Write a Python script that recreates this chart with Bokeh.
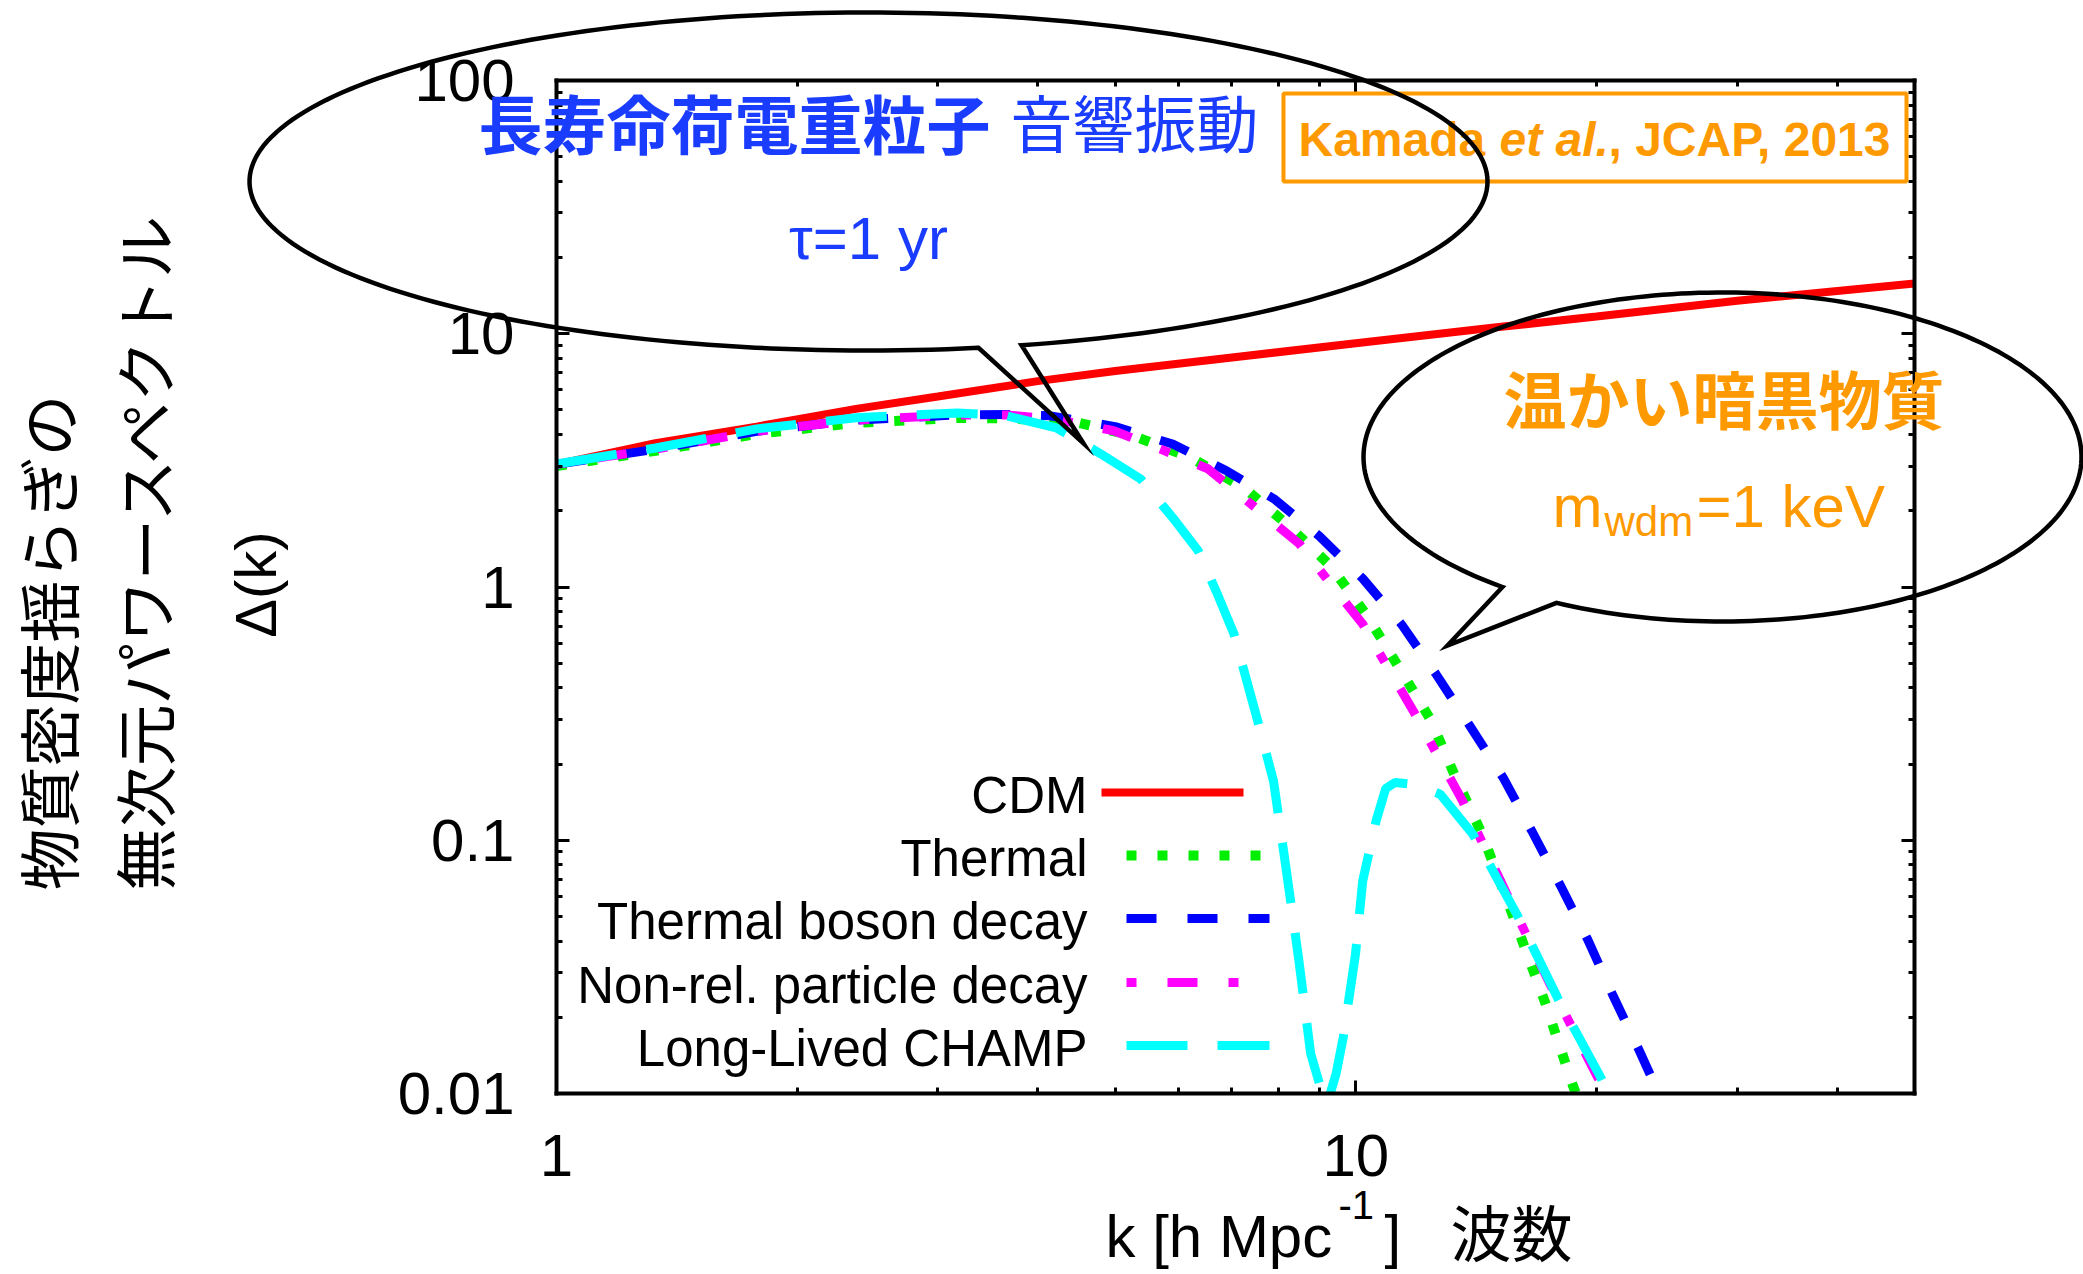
import math
from bokeh.plotting import figure
from bokeh.models import (Range1d, FixedTicker, CustomJSTickFormatter, LogAxis, Label,
                          PolyAnnotation, BoxAnnotation, Arrow)
from bokeh.embed import file_html
from bokeh.resources import INLINE

NaN = float("nan")

# ---------------- data ----------------
cdm_k = [1.0, 1.33, 1.78, 2.37, 3.0, 4.0, 5.0, 7.0, 10.0, 15.0, 20.0, 30.0, 50.0]
cdm_d = [3.05, 3.7, 4.3, 5.05, 5.65, 6.5, 7.13, 8.06, 9.17, 10.6, 11.7, 13.5, 15.8]

thermal_k = [1.0, 1.33, 1.78, 2.37, 3.17, 3.66, 4.44, 5.27, 6.22, 7.25, 8.2, 9.3, 10.3,
             11.3, 12.4, 13.3, 14.4, 15.7, 17.2, 18.7, 18.85]
thermal_d = [3.0, 3.45, 4.02, 4.45, 4.65, 4.63, 4.5, 3.95, 3.24, 2.46, 1.77, 1.21, 0.78,
             0.487, 0.30, 0.18, 0.105, 0.051, 0.0235, 0.0107, 0.01]

boson_k = [1.0, 1.33, 1.78, 2.37, 3.17, 3.66, 4.15, 5.0, 5.9, 6.9, 7.9, 9.0, 10.2, 11.4,
           12.6, 13.9, 15.3, 16.6, 18.0, 19.5, 21.0, 22.6, 23.9, 24.0]
boson_d = [3.05, 3.5, 4.12, 4.56, 4.78, 4.8, 4.74, 4.3, 3.67, 2.87, 2.23, 1.59, 1.08, 0.714,
           0.453, 0.282, 0.176, 0.109, 0.067, 0.0406, 0.0242, 0.0149, 0.0101, 0.01]

nonrel_k = [1.0, 1.33, 1.78, 2.37, 3.17, 3.66, 4.2, 4.98, 5.7, 6.53, 7.5, 8.5, 9.3, 10.2,
            11.0, 11.8, 12.7, 13.6, 15.5, 17.5, 19.0, 20.4, 20.55]
nonrel_d = [3.05, 3.5, 4.12, 4.56, 4.78, 4.78, 4.6, 4.14, 3.5, 2.93, 2.05, 1.48, 1.03, 0.714,
            0.473, 0.324, 0.212, 0.143, 0.060, 0.027, 0.0162, 0.0105, 0.01]

champ_k = [1.0, 1.33, 1.78, 2.37, 3.17, 3.66, 4.22, 4.8, 5.38, 5.9, 6.35, 6.7, 7.04, 7.54,
           7.89, 8.18, 8.49, 8.78, 9.04, 9.08, NaN, 9.29, 9.45, 9.64, 9.99, 10.2, 10.6,
           10.9, 11.2, 11.6, 12.1, 12.75, 14.0, 15.9, 17.9, 20.3, 20.7]
champ_d = [3.06, 3.54, 4.21, 4.66, 4.87, 4.74, 4.25, 3.35, 2.67, 1.88, 1.39, 0.95, 0.652,
           0.295, 0.171, 0.0775, 0.0333, 0.0144, 0.0105, 0.01, NaN, 0.01, 0.012, 0.0165,
           0.0354, 0.069, 0.119, 0.160, 0.169, 0.167, 0.162, 0.152, 0.106, 0.051, 0.0237,
           0.0114, 0.01]

series_names = ["CDM", "Thermal", "Thermal boson decay", "Non-rel. particle decay",
                "Long-Lived CHAMP"]

x_tick_values = [1, 10]
y_tick_values = [0.01, 0.1, 1, 10, 100]

# ---------------- layout ----------------
W, H = 2083, 1274
L, R, T, B = 556, 1914, 80, 1093          # plot box in page pixels
XMIN, XMAX = 1.0, 50.0
YMIN, YMAX = 0.01, 100.0

def dx(px):
    return 10 ** (math.log10(XMIN) + (px - L) / (R - L) * (math.log10(XMAX) - math.log10(XMIN)))

def dy(py):
    return 10 ** (math.log10(YMAX) - (py - T) / (B - T) * (math.log10(YMAX) - math.log10(YMIN)))

SANS = "Liberation Sans"
CJK = "Noto Sans CJK JP"
BLUE_T = "#1a3cff"
ORANGE = "#ff9900"

# the frame fills the whole page; the plot box is drawn by fixed-location axes
p = figure(width=W, height=H, x_axis_type="log", y_axis_type="log",
           x_range=Range1d(dx(0), dx(W)), y_range=Range1d(dy(H), dy(0)),
           x_axis_location=None, y_axis_location=None,
           output_backend="svg", toolbar_location=None,
           min_border_left=0, min_border_right=0, min_border_top=0, min_border_bottom=0)
p.background_fill_color = "white"
p.border_fill_color = "white"
p.outline_line_color = None
p.grid.visible = False

x_minor = [m * 10 ** e for e in (0, 1) for m in range(2, 10) if m * 10 ** e <= XMAX]
y_minor = [m * 10.0 ** e for e in (-2, -1, 0, 1) for m in range(2, 10)]

def make_axis(ticks, minor, bounds, loc, show_labels, standoff=0):
    ax = LogAxis(fixed_location=loc, bounds=bounds)
    ax.ticker = FixedTicker(ticks=ticks, minor_ticks=minor)
    ax.axis_line_width = 4
    ax.axis_line_color = "black"
    ax.axis_line_cap = "square"
    ax.major_tick_in = 13
    ax.major_tick_out = 0
    ax.minor_tick_in = 6
    ax.minor_tick_out = 0
    ax.major_tick_line_width = 3
    ax.minor_tick_line_width = 3
    ax.major_label_text_font = SANS
    ax.major_label_text_color = "black"
    if show_labels:
        ax.formatter = CustomJSTickFormatter(code="return tick.toString()")
        ax.major_label_text_font_size = "60px"
        ax.major_label_standoff = standoff
    else:
        ax.formatter = CustomJSTickFormatter(code="return ''")
        ax.major_label_text_font_size = "0px"
        ax.major_label_standoff = 0
    return ax

p.add_layout(make_axis(x_tick_values, x_minor, (XMIN, XMAX), YMIN, True, 41), "below")
p.add_layout(make_axis(y_tick_values, y_minor, (YMIN, YMAX), XMIN, True, 42), "left")
p.add_layout(make_axis(x_tick_values, x_minor, (XMIN, XMAX), YMAX, False), "above")
p.add_layout(make_axis(y_tick_values, y_minor, (YMIN, YMAX), XMAX, False), "right")

# ---------------- curves ----------------
styles = [
    ("#ff0000", 8, "solid"),
    ("#00ee00", 10, "10 21"),
    ("#0000ff", 9, "30 31"),
    ("#ff00ff", 9, "10 31 30 31"),
    ("#00ffff", 9, "61 30"),
]
all_k = [cdm_k, thermal_k, boson_k, nonrel_k, champ_k]
all_d = [cdm_d, thermal_d, boson_d, nonrel_d, champ_d]
for ks, ds, (col, lw, dash) in zip(all_k, all_d, styles):
    p.line(ks, ds, line_color=col, line_width=lw, line_dash=dash)

# ---------------- legend (text left, sample right) ----------------
row_y = [792, 855, 918, 982, 1045]
for i, (name, (col, lw, dash)) in enumerate(zip(series_names, styles)):
    ry = row_y[i]
    p.add_layout(Label(x=dx(1087), y=dy(ry + 3), text=name, text_align="right",
                       text_baseline="middle", text_font=SANS,
                       text_font_size="51px", text_color="black"))
    x0, x1 = (1101, 1243) if i == 0 else (1126, 1269)
    p.add_layout(Arrow(x_start=dx(x0), y_start=dy(ry), x_end=dx(x1), y_end=dy(ry),
                       start=None, end=None, line_color=col, line_width=lw,
                       line_dash=dash))

# ---------------- speech bubbles ----------------
def bubble(cx, cy, rx, ry, t_start, t_end, tip, n=240):
    pts = []
    span = (t_end + 2 * math.pi) - t_start
    for i in range(n + 1):
        t = t_start + span * i / n
        pts.append((cx + rx * math.cos(t), cy + ry * math.sin(t)))
    pts.append(tip)
    xs = [dx(a) for a, b in pts]
    ys = [dy(b) for a, b in pts]
    return PolyAnnotation(xs=xs, ys=ys, fill_alpha=0, line_color="black", line_alpha=1.0,
                          line_width=4.5, line_join="miter", level="overlay")

cx1, cy1, rx1, ry1 = 868, 181, 619, 169
p.add_layout(bubble(cx1, cy1, rx1, ry1, math.acos((978 - cx1) / rx1),
                    math.acos((1021 - cx1) / rx1), (1083, 443)))

cx2, cy2, rx2, ry2 = 1722, 456.5, 359, 164.5
p.add_layout(bubble(cx2, cy2, rx2, ry2, math.acos((1502 - cx2) / rx2),
                    math.acos((1556 - cx2) / rx2), (1447, 645)))

# ---------------- annotation texts ----------------
def lab(px, py, text, size, font=SANS, color="black", align="left", style="normal",
        angle=0.0):
    p.add_layout(Label(x=dx(px), y=dy(py), text=text, text_align=align,
                       text_baseline="middle", text_font=font,
                       text_font_size=f"{size}px", text_color=color,
                       text_font_style=style, angle=angle))

lab(478, 120, "長寿命荷電重粒子", 64, CJK, BLUE_T, style="bold")
lab(1010, 120, "音響振動", 62, CJK, BLUE_T)
lab(868, 238, "τ=1 yr", 60, SANS, BLUE_T, align="center")

p.add_layout(BoxAnnotation(left=dx(1283), right=dx(1906), top=dy(93), bottom=dy(181),
                           fill_alpha=0, line_color=ORANGE, line_alpha=1.0, line_width=4))
lab(1298, 139, "Kamada ", 48, SANS, ORANGE, style="bold")
lab(1499, 139, "et al.", 48, SANS, ORANGE, style="bold italic")
lab(1608, 139, ", JCAP, 2013", 48, SANS, ORANGE, style="bold")

lab(1503, 396, "温かい暗黒物質", 63, CJK, ORANGE, style="bold")
lab(1552, 506, "m", 60, SANS, ORANGE)
lab(1604, 521, "wdm", 42, SANS, ORANGE)
lab(1696, 506, "=1 keV", 60, SANS, ORANGE)

# axis titles
lab(1105, 1236, "k [h Mpc", 60, SANS)
lab(1338, 1204, "-1", 40, SANS)
lab(1384, 1236, "]", 60, SANS)
lab(1450, 1230, "波数", 61, CJK)

lab(46, 890, "物質密度揺らぎの", 62, CJK, angle=math.pi / 2)
lab(142, 890, "無次元パワースペクトル", 62, CJK, angle=math.pi / 2)
lab(255, 584, "Δ(k)", 58, SANS, align="center", angle=math.pi / 2)

open("out.html", "w").write(file_html(p, INLINE))
